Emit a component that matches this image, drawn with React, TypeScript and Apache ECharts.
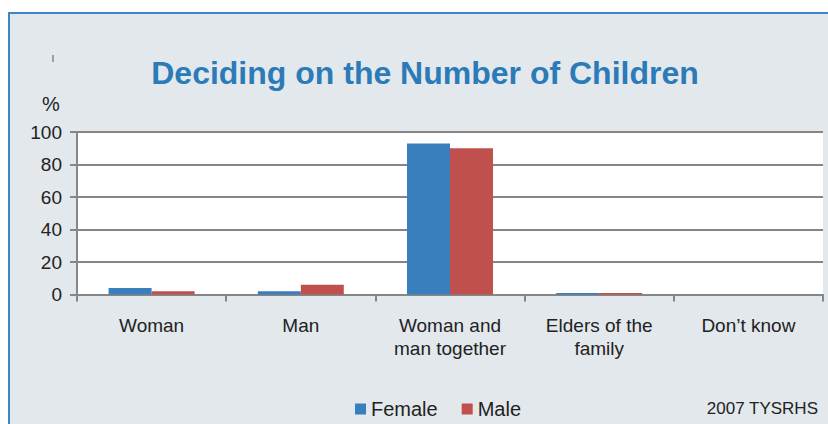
import React, { useEffect, useRef } from "react";
import * as echarts from "echarts";

const categories = ["Woman", "Man", "Woman and\nman together", "Elders of the\nfamily", "Don\u2019t know"];
const femaleValues = [4, 2, 93, 1, 0];
const maleValues = [2, 6, 90, 1, 0];
const yTicks = [0, 20, 40, 60, 80, 100];
const seriesNames = ["Female", "Male"];
const titleText = "Deciding on the Number of Children";
const sourceText = "2007 TYSRHS";

export default function App() {
  const ref = useRef<HTMLDivElement>(null);
  useEffect(() => {
    if (!ref.current) return;
    const chart = echarts.init(ref.current, null, { renderer: "svg" });
    const gray = "#868686";
    const font = "Liberation Sans, Arial, sans-serif";
    chart.setOption({
      animation: false,
      backgroundColor: "#ffffff",
      textStyle: { fontFamily: font },
      graphic: [
        {
          type: "rect",
          z: -10,
          shape: { x: 9, y: 13, width: 840, height: 430 },
          style: { fill: "#e3e8ec", stroke: "#3f86c4", lineWidth: 2 },
          silent: true,
        },
        {
          type: "text",
          x: 425,
          y: 73,
          style: {
            text: titleText,
            fill: "#2b7bb8",
            font: `bold 32px ${font}`,
            textAlign: "center",
            textVerticalAlign: "middle",
          },
        },
        {
          type: "text",
          x: 51,
          y: 104,
          style: {
            text: "%",
            fill: "#222222",
            font: `20px ${font}`,
            textAlign: "center",
            textVerticalAlign: "middle",
          },
        },
        {
          type: "line",
          shape: { x1: 53, y1: 55, x2: 53, y2: 62 },
          style: { stroke: gray, lineWidth: 1.5 },
        },
        {
          type: "text",
          x: 818,
          y: 408,
          style: {
            text: sourceText,
            fill: "#222222",
            font: `17px ${font}`,
            textAlign: "right",
            textVerticalAlign: "middle",
          },
        },
      ],
      legend: {
        data: seriesNames,
        left: 350,
        top: 394,
        icon: "rect",
        itemWidth: 11,
        itemHeight: 11,
        itemGap: 24,
        textStyle: { fontSize: 20, color: "#222222", fontFamily: font },
      },
      grid: {
        left: 77,
        right: 5,
        top: 132,
        bottom: 129.5,
        show: true,
        backgroundColor: "#ffffff",
        borderWidth: 0,
      },
      xAxis: {
        type: "category",
        data: categories,
        axisLine: { show: true, lineStyle: { color: gray, width: 2 } },
        axisTick: { show: true, length: 7, lineStyle: { color: gray, width: 2 } },
        axisLabel: {
          fontSize: 19,
          color: "#222222",
          margin: 19,
          lineHeight: 23,
          interval: 0,
          fontFamily: font,
        },
      },
      yAxis: {
        type: "value",
        min: yTicks[0],
        max: yTicks[yTicks.length - 1],
        interval: 20,
        axisLine: { show: true, lineStyle: { color: gray, width: 2 } },
        axisTick: { show: true, length: 7, lineStyle: { color: gray, width: 2 } },
        axisLabel: { fontSize: 19, color: "#222222", margin: 15, fontFamily: font },
        splitLine: { show: true, lineStyle: { color: gray, width: 2 } },
      },
      series: [
        {
          name: seriesNames[0],
          type: "bar",
          data: femaleValues,
          barWidth: 43,
          barGap: "0%",
          itemStyle: { color: "#3a7fbd" },
        },
        {
          name: seriesNames[1],
          type: "bar",
          data: maleValues,
          barWidth: 43,
          barGap: "0%",
          itemStyle: { color: "#c0504d" },
        },
      ],
    });
    return () => chart.dispose();
  }, []);
  return (
    <div
      ref={ref}
      style={{ position: "absolute", left: 0, top: 0, width: 828, height: 424 }}
    />
  );
}
